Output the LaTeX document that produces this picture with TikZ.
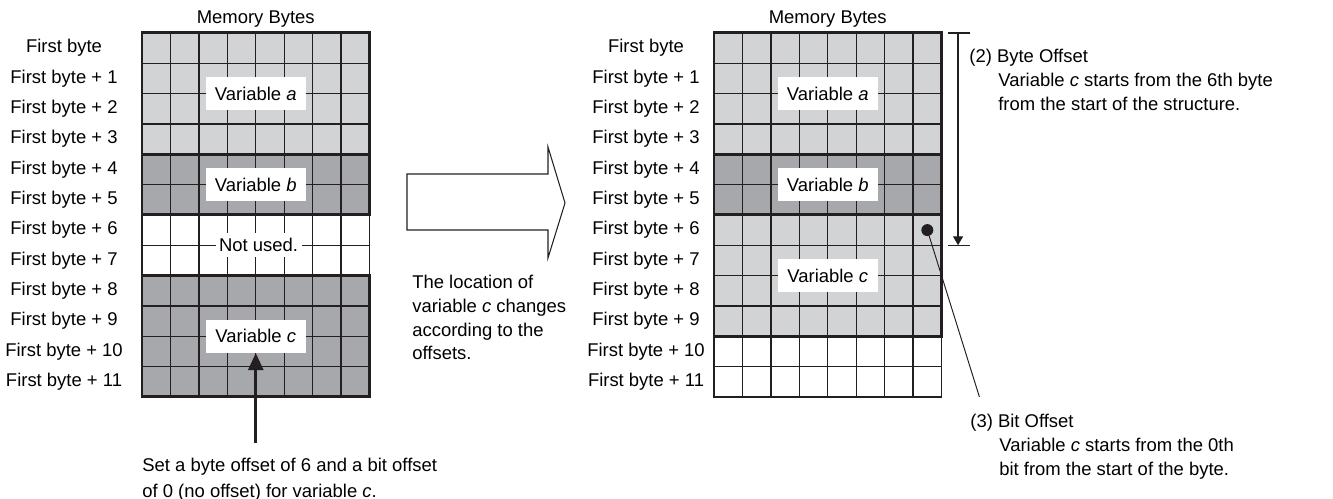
\documentclass[tikz,border=0pt]{standalone}
\usepackage{fontspec}
\setmainfont{Liberation Sans}
\usepackage{tikz}
\usetikzlibrary{positioning,arrows.meta}

\definecolor{grchiaro}{RGB}{210,211,213}
\definecolor{grscuro}{RGB}{166,168,171}
\definecolor{linea}{RGB}{35,31,32}

\tikzset{
  sottile/.style={draw=linea, line width=0.75pt},
  spessa/.style={draw=linea, line width=1.7pt},
  etich/.style={fill=white, inner sep=0pt, minimum width=2cm, minimum height=0.66cm, text height=7.6pt, text depth=0pt},
  riga/.style={inner sep=0pt},
  nota/.style={align=left, inner sep=0pt, anchor=north west},
  freccia/.style={draw=linea, line width=1.5pt, -{Triangle[width=0.3cm,length=0.34cm]}},
}

\begin{document}
\begin{tikzpicture}[x=0.02cm, y=-0.02cm, font=\fontsize{10.5}{13.5}\selectfont]
  \useasboundingbox (0,0) rectangle (1333,499);

  % Griglia di sinistra
  \begin{scope}[shift={(142,33)}, x=0.569cm, y=-0.6066cm]
    \fill[grchiaro] (0,0) rectangle (8,4);
    \fill[grscuro] (0,4) rectangle (8,6);
    \fill[grscuro] (0,8) rectangle (8,12);
    \foreach \i in {1,...,7} \draw[sottile] (\i,0) -- (\i,12);
    \foreach \j in {1,...,11} \draw[sottile] (0,\j) -- (8,\j);
    \draw[sottile] (0,6) rectangle (8,8);
    \draw[spessa] (0,0) rectangle (8,4) (0,4) rectangle (8,6) (0,8) rectangle (8,12);

    \node (titL) at (4,-0.46) {Memory Bytes};
    \node[riga] (rL0) at (-2.742,0.5) {First byte};
    \foreach \nr in {1,...,11} \node[riga] (rL\nr) at (-2.742,\nr+0.5) {First byte + \nr};

    \node[etich] (aL) at (4,2) {Variable \textit{a}};
    \node[etich] (bL) at (4,5) {Variable \textit{b}};
    \node[fill=white, inner xsep=2pt, inner ysep=3pt] (nuL) at (4.1,7) {Not used.};
    \node[etich] (cL) at (4,10) {Variable \textit{c}};

    \coordinate[below=1.8cm of cL.south] (coda);
    \draw[freccia] (coda) -- (cL.south);
  \end{scope}

  \node[nota, font=\fontsize{10.5}{14.8}\selectfont] (notaL) at (142,458)
    {Set a byte offset of 6 and a bit offset\\of 0 (no offset) for variable \textit{c}.};

  % Freccia vuota
  \draw[line width=0.6pt, draw=linea] (407,174) -- (548,174) -- (548,147) -- (565,203)
    -- (548,258) -- (548,230) -- (407,230) -- cycle;
  \node[nota] (notaM) at (412,275)
    {The location of\\variable \textit{c} changes\\according to the\\offsets.};

  % Griglia di destra
  \begin{scope}[shift={(714,33)}, x=0.569cm, y=-0.6066cm]
    \fill[grchiaro] (0,0) rectangle (8,4);
    \fill[grscuro] (0,4) rectangle (8,6);
    \fill[grchiaro] (0,6) rectangle (8,10);
    \foreach \i in {1,...,7} \draw[sottile] (\i,0) -- (\i,12);
    \foreach \j in {1,...,11} \draw[sottile] (0,\j) -- (8,\j);
    \draw[sottile] (0,10) rectangle (8,12);
    \draw[spessa] (0,0) rectangle (8,4) (0,4) rectangle (8,6) (0,6) rectangle (8,10);

    \node (titR) at (4,-0.46) {Memory Bytes};
    \node[riga] (rR0) at (-2.39,0.5) {First byte};
    \foreach \nr in {1,...,11} \node[riga] (rR\nr) at (-2.39,\nr+0.5) {First byte + \nr};

    \node[etich] (aR) at (4,2) {Variable \textit{a}};
    \node[etich] (bR) at (4,5) {Variable \textit{b}};
    \node[etich] (cR) at (4,8) {Variable \textit{c}};

    % offset di byte
    \coordinate (dtop) at (8.58,0);
    \coordinate (dbot) at (8.58,7);
    \draw[sottile, -{Triangle[width=0.2cm,length=0.18cm]}] (dtop) -- (dbot);
    \draw[sottile] ([xshift=-0.2cm]dtop) -- ([xshift=0.24cm]dtop);
    \draw[sottile] ([xshift=-0.2cm]dbot) -- ([xshift=0.24cm]dbot);

    % offset di bit
    \node[circle, fill=linea, inner sep=0pt, minimum size=0.24cm] (bit0) at (7.5,6.5) {};
    \coordinate (capo) at (9.33,12);
    \draw[draw=linea, line width=0.55pt] (bit0) -- (capo);
  \end{scope}

  \node[nota] (notaB) at (969,49)
    {(2) Byte Offset\\\hspace*{16.5pt}Variable \textit{c} starts from the 6th byte\\\hspace*{16.5pt}from the start of the structure.};
  \node[nota] (notaC) at (970,414)
    {(3) Bit Offset\\\hspace*{16.5pt}Variable \textit{c} starts from the 0th\\\hspace*{16.5pt}bit from the start of the byte.};
\end{tikzpicture}
\end{document}
